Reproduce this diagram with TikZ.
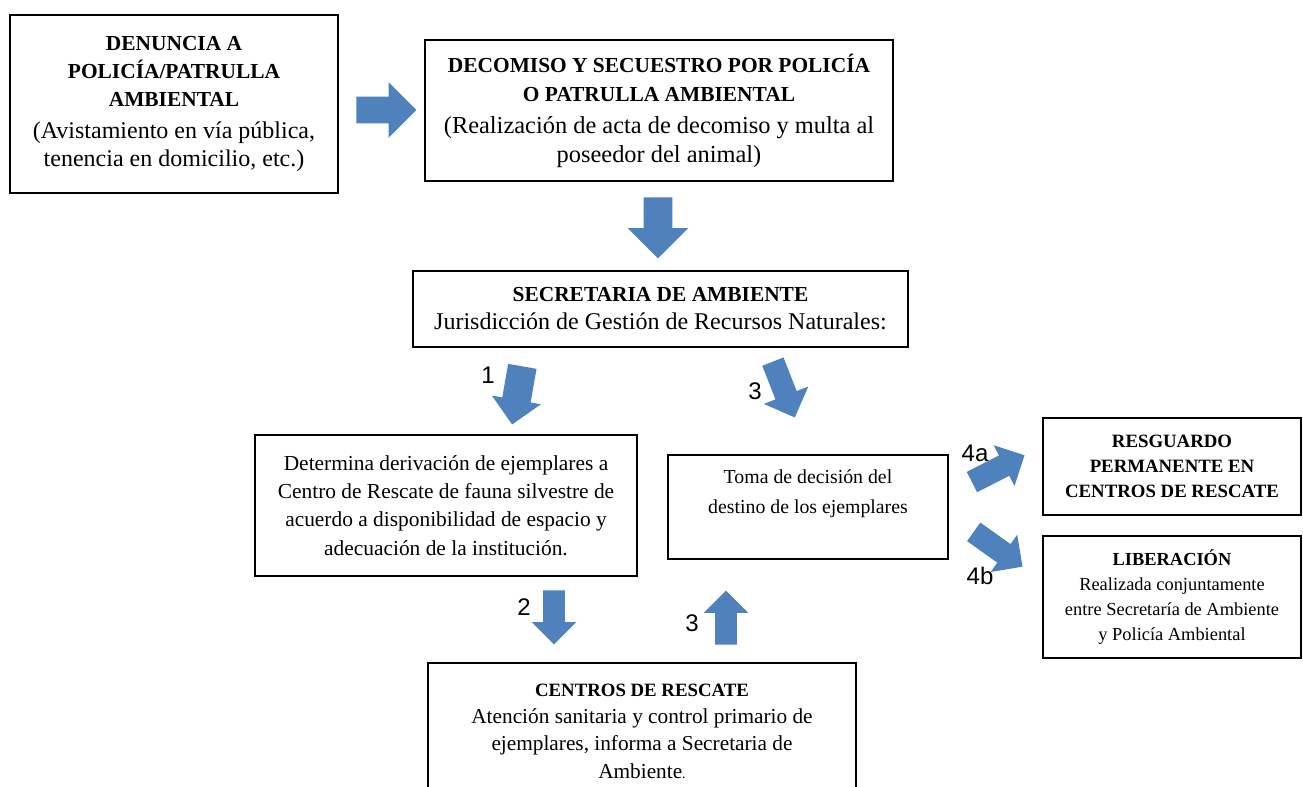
\documentclass[tikz,border=0pt]{standalone}
\usepackage{fontspec}
\setmainfont{Liberation Serif}
\newfontfamily\numfont{Liberation Sans}
\usetikzlibrary{shapes.arrows}
\definecolor{arrowblue}{HTML}{4F81BD}
\newcommand{\hd}[1]{{\fontsize{10.7}{14}\selectfont\bfseries #1}}

\begin{document}
\begin{tikzpicture}[
        x=0.5pt, y=-0.5pt,
        align=center,
        box/.style = {draw, line width=1.1pt, inner sep=0pt, align=center},
        blk/.style = {single arrow, fill=arrowblue, draw=none, inner xsep=0pt, anchor=tip},
        num/.style = {font=\numfont\fontsize{12}{14}\selectfont, inner sep=0pt}
    ]

        \useasboundingbox (0,0) rectangle (1303,787);

        % boxes
        \node[box, minimum width=164pt, minimum height=89pt, font=\fontsize{12}{14}\selectfont] (denuncia) at (174,104)
            {\hd{DENUNCIA A}\\ \hd{POLICÍA/PATRULLA}\\ \hd{AMBIENTAL}\\[2pt] (Avistamiento en vía pública,\\ tenencia en domicilio, etc.)};
        \node[box, minimum width=234pt, minimum height=70.5pt, font=\fontsize{12.2}{14.5}\selectfont] (decomiso) at (659,110.5)
            {\hd{DECOMISO Y SECUESTRO POR POLICÍA}\\ \hd{O PATRULLA AMBIENTAL}\\[1.5pt] (Realización de acta de decomiso y multa al\\ poseedor del animal)};
        \node[box, minimum width=247.5pt, minimum height=38pt, font=\fontsize{12}{14}\selectfont] (secretaria) at (660.5,309)
            {\hd{SECRETARIA DE AMBIENTE}\\ Jurisdicción de Gestión de Recursos Naturales:};
        \node[box, minimum width=191pt, minimum height=70.5pt, font=\fontsize{10.7}{14.2}\selectfont] (determina) at (446,505.5)
            {Determina derivación de ejemplares a\\ Centro de Rescate de fauna silvestre de\\ acuerdo a disponibilidad de espacio y\\ adecuación de la institución.};
        \node[box, minimum width=140pt, minimum height=52pt, font=\fontsize{9.9}{15}\selectfont] (toma) at (808,507)
            {Toma de decisión del\\ destino de los ejemplares\\ \mbox{}};
        \node[box, minimum width=129pt, minimum height=48.5pt, font=\fontsize{9.4}{12.5}\selectfont\bfseries] (resguardo) at (1172,466.5)
            {RESGUARDO\\ PERMANENTE EN\\ CENTROS DE RESCATE};
        \node[box, minimum width=129pt, minimum height=61pt, font=\fontsize{9.2}{12.5}\selectfont] (liberacion) at (1172,597)
            {\textbf{LIBERACIÓN}\\ Realizada conjuntamente\\ entre Secretaría de Ambiente\\ y Policía Ambiental};
        \node[box, minimum width=214pt, minimum height=68pt, font=\fontsize{10.65}{13.7}\selectfont] (centros) at (642,731)
            {{\fontsize{9.4}{13.7}\selectfont\bfseries CENTROS DE RESCATE}\\ Atención sanitaria y control primario de\\ ejemplares, informa a Secretaria de\\ Ambiente{\scriptsize .}};

        % block arrows, placed by their tips
        \node[blk, minimum height=30pt, inner ysep=6.5pt, single arrow head extend=7.25pt] (a1) at (417,110) {};
        \node[blk, minimum height=30.5pt, inner ysep=7pt, single arrow head extend=8pt, rotate=-90] (a2) at (658,259) {};
        \node[blk, minimum height=29.5pt, inner ysep=7pt, single arrow head extend=5.25pt, rotate=-100] (a3) at (512,425) {};
        \node[blk, minimum height=30pt, inner ysep=5.5pt, single arrow head extend=6.25pt, rotate=-68.6] (a4) at (795,418) {};
        \node[blk, minimum height=27pt, inner ysep=5.25pt, single arrow head extend=5.75pt, rotate=-90] (a5) at (554,645) {};
        \node[blk, minimum height=27pt, inner ysep=5.25pt, single arrow head extend=5.75pt, rotate=90] (a6) at (726,590) {};
        \node[blk, minimum height=29.5pt, inner ysep=5.5pt, single arrow head extend=5.75pt, rotate=27] (a7) at (1025,455) {};
        \node[blk, minimum height=30pt, inner ysep=5.5pt, single arrow head extend=5.75pt, rotate=-35.5] (a8) at (1023,567) {};

        % step numbers
        \node[num] (n1) at (488,375) {1};
        \node[num] (n3a) at (755,391) {3};
        \node[num] (n2) at (524,607) {2};
        \node[num] (n3b) at (692,623) {3};
        \node[num] (n4a) at (975,453) {4a};
        \node[num] (n4b) at (980,576) {4b};

    \end{tikzpicture}
\end{document}
